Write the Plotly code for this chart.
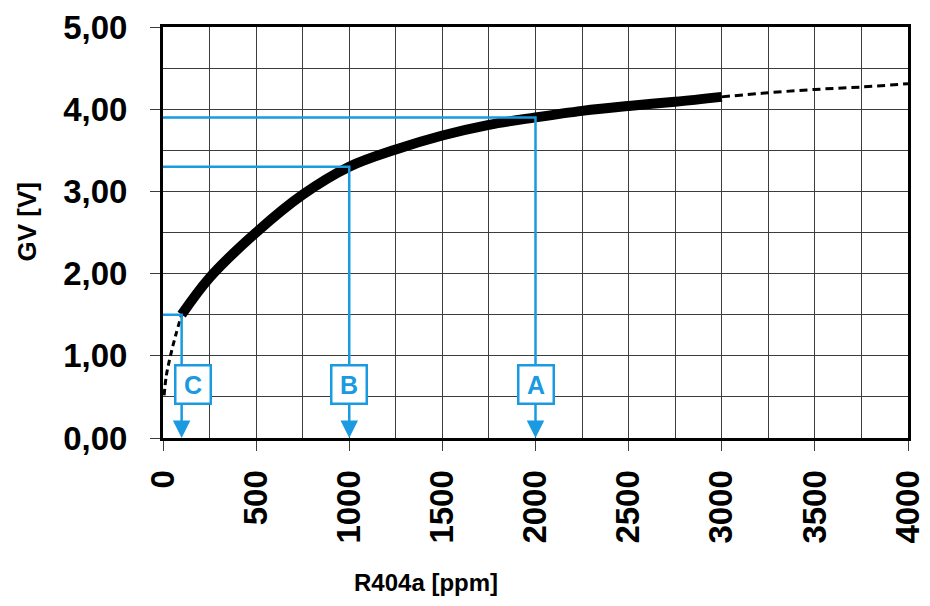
import plotly.graph_objects as go

# ---- data ----
solid_ppm = [100, 250, 500, 750, 1000, 1250, 1500, 1750, 2000, 2250, 2500, 2750, 3000]
solid_gv = [1.5, 1.95, 2.5, 2.96, 3.3, 3.51, 3.68, 3.81, 3.9, 3.98, 4.04, 4.09, 4.15]

low_ppm = [6, 18, 38, 68, 100]
low_gv = [0.52, 0.76, 0.98, 1.25, 1.5]

high_ppm = [3000, 3250, 3500, 3750, 4000]
high_gv = [4.15, 4.2, 4.24, 4.27, 4.31]

marker_labels = ["A", "B", "C"]
marker_ppm = [2000, 1000, 100]
marker_gv = [3.9, 3.3, 1.5]
label_gv = 0.645
box_xshift = [0, 0, 11]

x_ticks = [0, 500, 1000, 1500, 2000, 2500, 3000, 3500, 4000]
x_ticktext = [str(v) for v in x_ticks]
y_ticks = [0, 1, 2, 3, 4, 5]
y_ticktext = ["0,00", "1,00", "2,00", "3,00", "4,00", "5,00"]

x_title = "R404a [ppm]"
y_title = "GV [V]"

BLUE = "#1a9ae0"
FONT = "Liberation Sans"
GRID = "#3c3c3c"

fig = go.Figure()

fig.add_trace(go.Scatter(x=low_ppm, y=low_gv, mode="lines",
                         line=dict(color="black", width=3, dash="6px,4px", shape="spline"),
                         hoverinfo="skip", showlegend=False))
fig.add_trace(go.Scatter(x=high_ppm, y=high_gv, mode="lines",
                         line=dict(color="black", width=3, dash="8px,5px", shape="spline"),
                         hoverinfo="skip", showlegend=False))
fig.add_trace(go.Scatter(x=solid_ppm, y=solid_gv, mode="lines",
                         line=dict(color="black", width=10, shape="spline"),
                         hoverinfo="skip", showlegend=False))

for lab, px, gv, xs in zip(marker_labels, marker_ppm, marker_gv, box_xshift):
    fig.add_trace(go.Scatter(x=[0, px, px], y=[gv, gv, label_gv], mode="lines",
                             line=dict(color=BLUE, width=2.5),
                             hoverinfo="skip", showlegend=False))
    fig.add_annotation(x=px, y=0, ax=px, ay=label_gv, axref="x", ayref="y",
                       text="", showarrow=True, arrowhead=2, arrowsize=1.4,
                       arrowwidth=2.5, arrowcolor=BLUE, standoff=0)

for lab, px, gv, xs in zip(marker_labels, marker_ppm, marker_gv, box_xshift):
    fig.add_annotation(x=px, y=label_gv, xshift=xs, text="<b>%s</b>" % lab,
                       showarrow=False, font=dict(family=FONT, size=25, color=BLUE),
                       bgcolor="white", bordercolor=BLUE, borderwidth=2.5,
                       borderpad=1, width=31, height=34)

fig.add_annotation(xref="paper", yref="paper", x=0.353, y=-0.352,
                   xanchor="center", yanchor="middle",
                   text="<b>%s</b>" % x_title, showarrow=False,
                   font=dict(family=FONT, size=24, color="black"))
fig.add_annotation(xref="paper", yref="paper", x=-0.183, y=0.526,
                   xanchor="center", yanchor="middle",
                   text="<b>%s</b>" % y_title, showarrow=False, textangle=-90,
                   font=dict(family=FONT, size=26, color="black"))

fig.update_xaxes(range=[0, 4000], tickmode="array", tickvals=x_ticks, ticktext=x_ticktext,
                 tickangle=-90, ticks="outside", ticklen=10, tickwidth=1.3, tickcolor=GRID,
                 tickfont=dict(family=FONT, size=33, color="black", weight="bold"),
                 ticklabelstandoff=6, automargin=False,
                 showgrid=True, gridcolor=GRID, gridwidth=1.3,
                 minor=dict(dtick=250, showgrid=True, gridcolor=GRID, gridwidth=1.3),
                 showline=True, linecolor="black", linewidth=3, mirror=True,
                 zeroline=False, fixedrange=True)
fig.update_yaxes(range=[0, 5], tickmode="array", tickvals=y_ticks, ticktext=y_ticktext,
                 ticks="outside", ticklen=10, tickwidth=1.3, tickcolor=GRID,
                 tickfont=dict(family=FONT, size=33, color="black", weight="bold"),
                 ticklabelstandoff=16, automargin=False,
                 showgrid=True, gridcolor=GRID, gridwidth=1.3,
                 minor=dict(dtick=0.5, showgrid=True, gridcolor=GRID, gridwidth=1.3),
                 showline=True, linecolor="black", linewidth=3, mirror=True,
                 zeroline=False, fixedrange=True)

fig.update_layout(width=930, height=606, margin=dict(l=155, r=30, t=19, b=176),
                  plot_bgcolor="white", paper_bgcolor="white",
                  font=dict(family=FONT), showlegend=False)

fig.write_html("out.html", config={"displayModeBar": False})
